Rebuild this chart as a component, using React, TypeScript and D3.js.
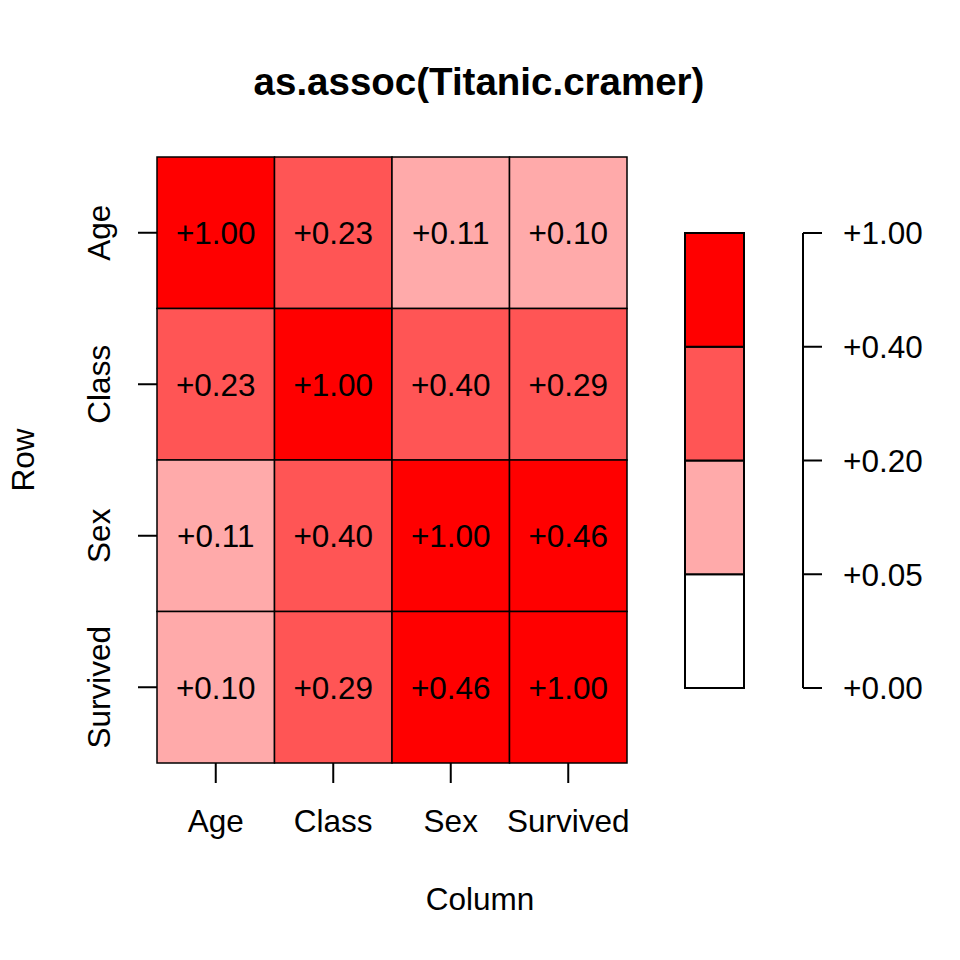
import React from 'react';
import * as d3 from 'd3';

// variables of the Titanic table
const vars = ['Age', 'Class', 'Sex', 'Survived'];
// Cramer's V, row by row
const cramer = [
  [1.0, 0.23, 0.11, 0.1],
  [0.23, 1.0, 0.4, 0.29],
  [0.11, 0.4, 1.0, 0.46],
  [0.1, 0.29, 0.46, 1.0],
];
// legend breaks and the colours between them
const breaks = [0, 0.05, 0.2, 0.4, 1];
const breakColors = ['#FFFFFF', '#FFAAAA', '#FF5555', '#FF0000'];

const W = 960;
const H = 960;
const font = 'Liberation Sans, Arial, Helvetica, sans-serif';
const fs = 31.5;

const fmt = (v: number) => (v >= 0 ? '+' : '') + v.toFixed(2);

// interval (lo, hi] of the breaks
const color = (v: number) => breakColors[Math.max(0, d3.bisectLeft(breaks, v) - 1)];

const App = () => {
  const x = d3.scaleBand<string>().domain(vars).range([157, 627]);
  const y = d3.scaleBand<string>().domain(vars).range([157, 763]);

  // legend: breaks evenly spaced
  const ly = d3.scalePoint<string>().domain(breaks.map(String)).range([688, 233]);
  const legX = 685;
  const legW = 59;
  const axX = 803;

  const cells = cramer.flatMap((row, i) => row.map((v, j) => ({ r: vars[i], c: vars[j], v })));

  return (
    <svg width={W} height={H} style={{ display: 'block', position: 'absolute', left: 0, top: 0 }} fontFamily={font}>
      <rect width={W} height={H} fill="#fff" />
      <text x={479} y={95} textAnchor="middle" fontSize={38.5} fontWeight="bold">as.assoc(Titanic.cramer)</text>

      {cells.map((d) => (
        <rect key={d.r + d.c} x={x(d.c)} y={y(d.r)} width={x.bandwidth()} height={y.bandwidth()}
          fill={color(d.v)} stroke="#000" strokeWidth={1.5} />
      ))}
      {cells.map((d) => (
        <text key={'t' + d.r + d.c} x={(x(d.c) ?? 0) + x.bandwidth() / 2} y={(y(d.r) ?? 0) + y.bandwidth() / 2}
          dy="0.36em" textAnchor="middle" fontSize={fs}>{fmt(d.v)}</text>
      ))}

      {/* left axis */}
      {vars.map((v) => {
        const cy = (y(v) ?? 0) + y.bandwidth() / 2;
        return (
          <g key={'ly' + v}>
            <line x1={138} x2={157} y1={cy} y2={cy} stroke="#000" strokeWidth={2} />
            <text transform={`translate(110,${cy}) rotate(-90)`} textAnchor="middle" fontSize={fs}>{v}</text>
          </g>
        );
      })}
      {/* bottom axis */}
      {vars.map((v) => {
        const cx = (x(v) ?? 0) + x.bandwidth() / 2;
        return (
          <g key={'bx' + v}>
            <line x1={cx} x2={cx} y1={763} y2={783} stroke="#000" strokeWidth={2} />
            <text x={cx} y={832} textAnchor="middle" fontSize={fs}>{v}</text>
          </g>
        );
      })}
      <text transform="translate(34,460) rotate(-90)" textAnchor="middle" fontSize={fs}>Row</text>
      <text x={480} y={910} textAnchor="middle" fontSize={fs}>Column</text>

      {/* legend bar */}
      {breakColors.map((c, i) => {
        const y0 = ly(String(breaks[i])) ?? 0;
        const y1 = ly(String(breaks[i + 1])) ?? 0;
        return <rect key={'lg' + i} x={legX} y={y1} width={legW} height={y0 - y1} fill={c} stroke="#000" strokeWidth={2} />;
      })}
      <line x1={axX} x2={axX} y1={ly('0')} y2={ly('1')} stroke="#000" strokeWidth={2} />
      {breaks.map((b) => {
        const ty = ly(String(b)) ?? 0;
        return (
          <g key={'lt' + b}>
            <line x1={axX} x2={axX + 19} y1={ty} y2={ty} stroke="#000" strokeWidth={2} />
            <text x={843} y={ty} dy="0.36em" fontSize={fs}>{fmt(b)}</text>
          </g>
        );
      })}
    </svg>
  );
};

export default App;
